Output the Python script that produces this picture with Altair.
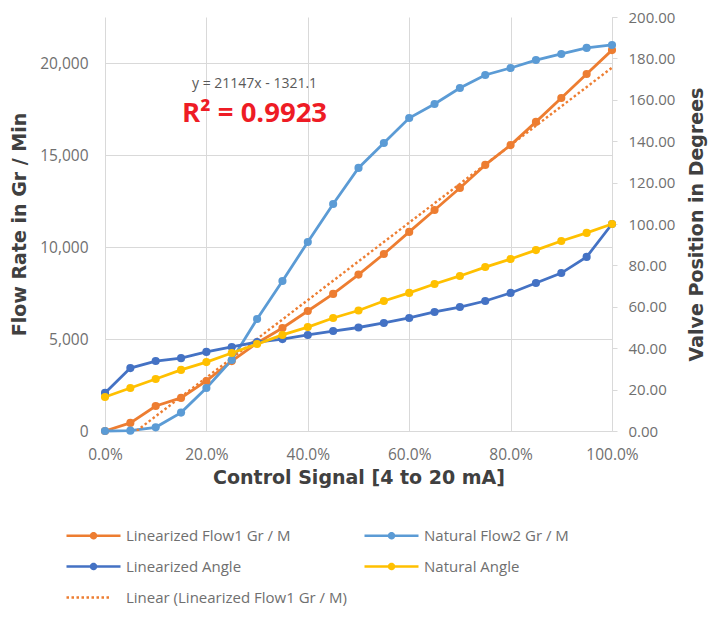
import altair as alt
import pandas as pd

# ---------------- data ----------------
signal = [0.00, 0.05, 0.10, 0.15, 0.20, 0.25, 0.30, 0.35, 0.40, 0.45, 0.50,
          0.55, 0.60, 0.65, 0.70, 0.75, 0.80, 0.85, 0.90, 0.95, 1.00]
linearized_flow1 = [0, 440, 1360, 1800, 2720, 3800, 4780, 5600, 6520, 7450, 8500,
                    9620, 10820, 12010, 13210, 14460, 15540, 16800, 18100, 19400, 20700]
natural_flow2 = [0, 20, 200, 1000, 2340, 3860, 6090, 8150, 10270, 12340, 14300,
                 15650, 17010, 17770, 18640, 19350, 19730, 20160, 20490, 20820, 20980]
linearized_angle = [18.4, 30.4, 33.8, 35.2, 38.2, 40.6, 43.0, 44.4, 46.4, 48.3, 50.0,
                    52.2, 54.6, 57.5, 59.9, 62.8, 66.7, 71.5, 76.3, 84.1, 100.0]
natural_angle = [16.4, 20.8, 25.1, 29.5, 33.3, 37.7, 42.0, 46.4, 50.2, 54.6, 58.2,
                 62.8, 66.7, 71.0, 74.9, 79.2, 83.1, 87.4, 91.8, 95.7, 100.0]

series_names = ["Linearized Flow1 Gr / M", "Natural Flow2 Gr / M",
                "Linearized Angle", "Natural Angle",
                "Linear (Linearized Flow1 Gr / M)"]
series_colors = ["#ED7D31", "#5B9BD5", "#4472C4", "#FFC000", "#ED7D31"]

x_ticks = [0.0, 0.2, 0.4, 0.6, 0.8, 1.0]
left_ticks = [0, 5000, 10000, 15000, 20000]
right_ticks = [0, 20, 40, 60, 80, 100, 120, 140, 160, 180, 200]

eq_labels = ["y = 21147x  - 1321.1", "R\u00b2 = 0.9923"]
eq_x = [0.295, 0.295]
eq_y = [18850, 17250]

# ---------------- tables ----------------
def series_df(values, name):
    return pd.DataFrame({"x": signal, "value": values, "series": [name] * len(signal)})

lf1_df = series_df(linearized_flow1, series_names[0])
nf2_df = series_df(natural_flow2, series_names[1])
la_df = series_df(linearized_angle, series_names[2])
na_df = series_df(natural_angle, series_names[3])
legend_df = pd.DataFrame({"series": series_names, "x": [0.0] * 5, "value": [0.0] * 5})
eq_df = pd.DataFrame({"x": eq_x, "value": eq_y, "label": eq_labels})

LABEL_FONT = "Open Sans"
TITLE_FONT = "DejaVu Sans"
GRID = "#d9d9d9"
LABEL_COLOR = "#6f6f6f"

x_axis = alt.Axis(values=x_ticks, format=".1%", domain=False, ticks=False,
                  grid=True, gridColor=GRID, labelFont=LABEL_FONT, labelFontSize=15.5,
                  labelColor=LABEL_COLOR, labelPadding=16, labelFlush=False,
                  title="Control Signal [4 to 20 mA]", titleFont=TITLE_FONT,
                  titleFontSize=19, titleFontWeight="bold", titleColor="#404040",
                  titlePadding=6)
x_enc = alt.X("x:Q", scale=alt.Scale(domain=[0, 1], nice=False), axis=x_axis)

left_y = alt.Y("value:Q", scale=alt.Scale(domain=[0, 22500], nice=False, zero=True),
               axis=alt.Axis(values=left_ticks, format=",d", domain=False, ticks=False,
                             grid=True, gridColor=GRID, labelFont=LABEL_FONT,
                             labelFontSize=15.5, labelColor=LABEL_COLOR, labelPadding=17,
                             labelFlush=False,
                             title="Flow Rate in Gr / Min", titleFont=TITLE_FONT,
                             titleFontSize=19, titleFontWeight="bold",
                             titleColor="#404040", titlePadding=10))
right_y = alt.Y("value:Q", scale=alt.Scale(domain=[0, 200], nice=False, zero=True),
                axis=alt.Axis(orient="right", values=right_ticks, format=".2f",
                              domain=True, domainColor=GRID, ticks=True, tickColor=GRID,
                              tickSize=5, grid=False, labelFont=LABEL_FONT,
                              labelFontSize=15, labelColor=LABEL_COLOR, labelPadding=11,
                              labelFlush=False,
                              title="Valve Position in Degrees", titleFont=TITLE_FONT,
                              titleFontSize=19, titleFontWeight="bold",
                              titleColor="#404040", titleAngle=270, titlePadding=32))


def series_layers(df, color, y_enc):
    line = alt.Chart(df).mark_line(strokeWidth=2.8, color=color).encode(x=x_enc, y=y_enc)
    pts = alt.Chart(df).mark_circle(size=66, opacity=1, color=color).encode(x=x_enc, y=y_enc)
    return line, pts


lf1_line, lf1_pts = series_layers(lf1_df, series_colors[0], left_y)
nf2_line, nf2_pts = series_layers(nf2_df, series_colors[1], left_y)
la_line, la_pts = series_layers(la_df, series_colors[2], right_y)
na_line, na_pts = series_layers(na_df, series_colors[3], right_y)

trend = alt.Chart(lf1_df).transform_regression(
    "x", "value", extent=[0, 1]
).mark_line(
    clip=True, strokeDash=[2.5, 2.5], strokeWidth=2.4, color=series_colors[4]
).encode(x=x_enc, y=left_y)

eq_small = alt.Chart(eq_df).transform_filter(alt.datum.label == eq_labels[0]).mark_text(
    font=LABEL_FONT, fontSize=14, color="#595959", baseline="middle", align="center"
).encode(x=x_enc, y=left_y, text="label:N")
eq_big = alt.Chart(eq_df).transform_filter(alt.datum.label == eq_labels[1]).mark_text(
    font=LABEL_FONT, fontSize=27.5, fontWeight="bold", color="#ee1c25",
    baseline="middle", align="center"
).encode(x=x_enc, y=left_y, text="label:N")

# legend carrier (draws nothing)
DOT = ("M-1,0H9.8M4.9,0A0.5,0.5,0,1,1,3.9,0A0.5,0.5,0,1,1,4.9,0"
       "M4.6,0A0.2,0.2,0,1,1,4.2,0A0.2,0.2,0,1,1,4.6,0")
DASH = "M-1,0H8"
legend_cfg = alt.Legend(orient="none", legendX=-41, legendY=511, columns=2,
                        direction="horizontal",
                        title=None, symbolSize=100, symbolStrokeWidth=2.5,
                        labelFont=LABEL_FONT, labelFontSize=15, labelColor=LABEL_COLOR,
                        labelOffset=47, rowPadding=15, columnPadding=12,
                        labelLimit=400, symbolOpacity=1)
legend_layer = alt.Chart(legend_df).transform_filter("false").mark_point(
    filled=False, opacity=1, strokeWidth=2.5
).encode(
    x=x_enc, y=left_y,
    color=alt.Color("series:N", scale=alt.Scale(domain=series_names, range=series_colors),
                    legend=legend_cfg),
    shape=alt.Shape("series:N", scale=alt.Scale(domain=series_names,
                                                range=[DOT, DOT, DOT, DOT, DASH]),
                    legend=legend_cfg),
    strokeDash=alt.StrokeDash("series:N",
                              scale=alt.Scale(domain=series_names,
                                              range=[[1, 0], [1, 0], [1, 0], [1, 0], [2.5, 2.5]]),
                              legend=legend_cfg),
)

left = alt.layer(lf1_line, nf2_line, trend, lf1_pts, nf2_pts, eq_small, eq_big, legend_layer)
right = alt.layer(la_line, na_line, la_pts, na_pts)

chart = alt.layer(left, right).resolve_scale(y="independent").properties(
    width=507, height=414,
    autosize=alt.AutoSizeParams(type="none"),
    padding={"left": 97, "top": 9, "right": 108, "bottom": 178},
    background="white",
).configure_view(stroke=None)

chart.save("out.html", embed_options={"renderer": "svg", "actions": False})
